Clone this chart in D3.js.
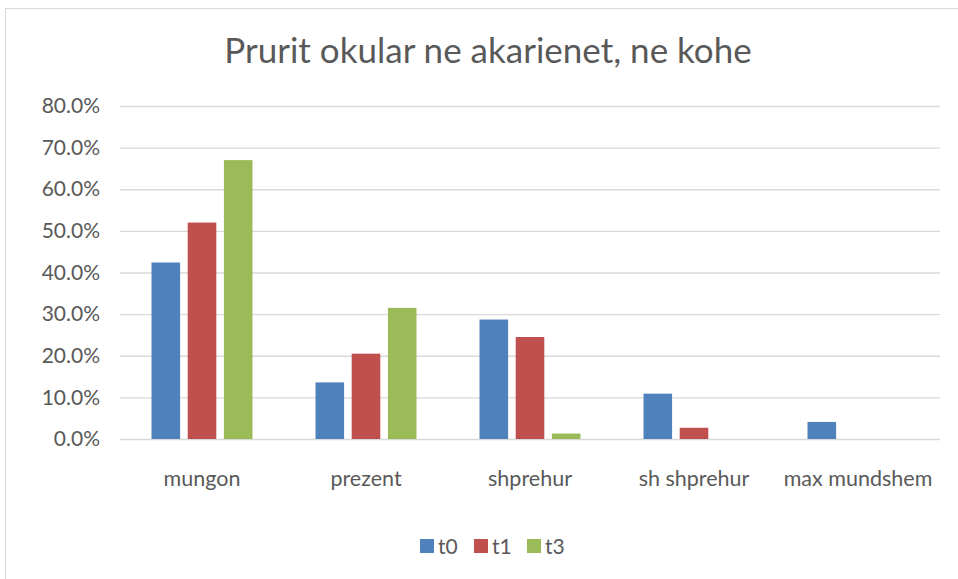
<!DOCTYPE html>
<html>
<head>
<meta charset="utf-8">
<style>
  body { margin: 0; background: #fff; }
  svg { display: block; font-family: Lato, "Open Sans", sans-serif; }
</style>
</head>
<body>
<svg width="958" height="579"></svg>
<script src="https://d3js.org/d3.v7.min.js"></script>
<script>

var categories = ["mungon", "prezent", "shprehur", "sh shprehur", "max mundshem"];
var seriesNames = ["t0", "t1", "t3"];
var t0 = [0.424, 0.136, 0.287, 0.109, 0.041];
var t1 = [0.520, 0.205, 0.245, 0.027, 0];
var t3 = [0.670, 0.315, 0.013, 0, 0];
var yTicks = [0, 0.1, 0.2, 0.3, 0.4, 0.5, 0.6, 0.7, 0.8];
var colors = ["#4f81bd", "#c0504d", "#9bbb59"];

var title = "Prurit okular ne akarienet, ne kohe";

var svg = d3.select("svg"),
    width = +svg.attr("width"),
    height = +svg.attr("height");

var margin = {top: 106, right: 18, bottom: 140, left: 120};
var plotW = width - margin.left - margin.right,
    plotH = height - margin.top - margin.bottom;

// chart frame
svg.append("rect")
    .attr("x", 5.5).attr("y", 8.5)
    .attr("width", width + 10).attr("height", height - 5)
    .attr("fill", "#fff")
    .attr("stroke", "#d9d9d9");

svg.append("text")
    .attr("x", 488).attr("y", 63)
    .attr("text-anchor", "middle")
    .attr("font-size", 35)
    .attr("fill", "#595959")
    .text(title);

var g = svg.append("g").attr("transform", "translate(" + margin.left + "," + margin.top + ")");

var x0 = d3.scaleBand().domain(categories).range([0, plotW]).paddingInner(0).paddingOuter(0);
var x1 = d3.scaleBand().domain(seriesNames).range([0, 101]).paddingInner(0.21).paddingOuter(0);
var y = d3.scaleLinear().domain([0, 0.8]).range([plotH, 0]);

var yAxis = d3.axisLeft(y).tickValues(yTicks).tickSize(-plotW).tickFormat(d3.format(".1%"));
var ga = g.append("g").call(yAxis);
ga.select(".domain").remove();
ga.selectAll(".tick line").attr("stroke", "#d9d9d9").attr("stroke-width", 1.3);
ga.selectAll(".tick text")
    .attr("x", -20)
    .attr("font-size", 21)
    .attr("fill", "#595959")
    .attr("font-family", "Lato, sans-serif");

var rows = categories.map(function(c, i) {
  return {cat: c, vals: [t0[i], t1[i], t3[i]]};
});

var groups = g.selectAll(".grp").data(rows).enter().append("g")
    .attr("transform", function(d) { return "translate(" + (x0(d.cat) + (x0.bandwidth() - 101) / 2) + ",0)"; });

groups.selectAll("rect").data(function(d) {
    return d.vals.map(function(v, k) { return {s: seriesNames[k], v: v, k: k}; });
  }).enter().append("rect")
    .filter(function(d) { return d.v > 0; })
    .attr("x", function(d) { return x1(d.s); })
    .attr("y", function(d) { return y(d.v); })
    .attr("width", x1.bandwidth())
    .attr("height", function(d) { return plotH - y(d.v); })
    .attr("fill", function(d) { return colors[d.k]; });

// category labels
var xAxis = d3.axisBottom(x0).tickSize(0);
var gx = g.append("g").attr("transform", "translate(0," + plotH + ")").call(xAxis);
gx.select(".domain").remove();
gx.selectAll(".tick text")
    .attr("dy", 0).attr("y", 47)
    .attr("font-size", 21.5)
    .attr("fill", "#595959")
    .attr("font-family", "Lato, sans-serif");

// legend
var legend = svg.append("g").attr("transform", "translate(420,539)");
var lx = [0, 54, 107];
seriesNames.forEach(function(s, i) {
  legend.append("rect").attr("x", lx[i]).attr("y", 0).attr("width", 14).attr("height", 14).attr("fill", colors[i]);
  legend.append("text").attr("x", lx[i] + 18).attr("y", 15)
      .attr("font-size", 21).attr("fill", "#595959").text(s);
});

</script>
</body>
</html>
